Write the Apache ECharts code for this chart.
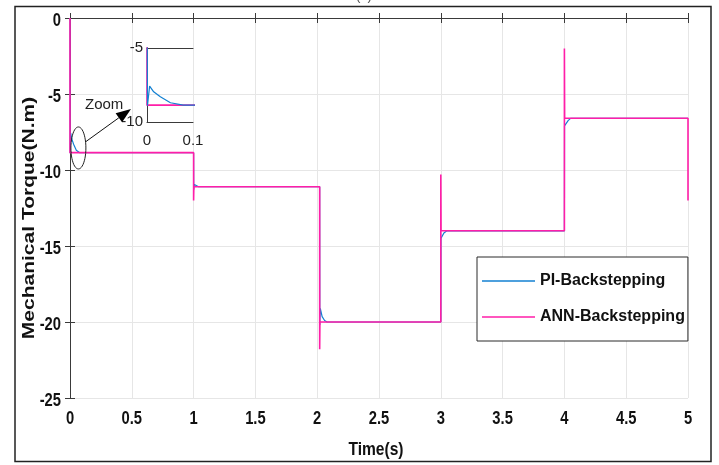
<!DOCTYPE html>
<html><head><meta charset="utf-8">
<script src="https://cdn.jsdelivr.net/npm/echarts@6/dist/echarts.min.js"></script>
<style>html,body{margin:0;padding:0;background:#fff}#c{width:719px;height:465px}</style>
</head><body><div id="c"></div>
<script>
// ---- data (time in s, torque in N.m) ----
const seriesNames = ['PI-Backstepping', 'ANN-Backstepping'];
const piTorque = [
  [0, 0], [0.001, -8.9], [0.0057, -7.57], [0.0145, -7.96], [0.029, -8.3], [0.051, -8.7], [0.079, -8.86],
  [1.0, -8.86], [1.001, -11.3], [1.006, -10.95], [1.02, -11.05], [1.04, -11.1],
  [2.02, -11.1], [2.021, -20.2], [2.025, -19.1], [2.04, -19.65], [2.06, -19.9], [2.08, -20.0],
  [3.0, -20.0], [3.001, -14.5], [3.006, -14.4], [3.025, -14.15], [3.05, -14.0],
  [4.0, -14.0], [4.001, -7.1], [4.01, -7.0], [4.03, -6.75], [4.05, -6.6], [5.0, -6.6]
];
const annTorque = [
  [0, 0], [0, -8.86], [1.0, -8.86], [1.0, -12.0], [1.002, -11.1],
  [2.02, -11.1], [2.02, -21.8], [2.022, -20.0], [3.0, -20.0], [3.0, -10.3], [3.002, -14.0],
  [4.0, -14.0], [4.0, -2.0], [4.002, -6.6], [5.0, -6.6], [5.0, -12.0]
];
const xTicks = [0, 0.5, 1, 1.5, 2, 2.5, 3, 3.5, 4, 4.5, 5];
const xTickLabels = ['0', '0.5', '1', '1.5', '2', '2.5', '3', '3.5', '4', '4.5', '5'];
const yTicks = [-25, -20, -15, -10, -5, 0];
const yTickLabels = ['-25', '-20', '-15', '-10', '-5', '0'];
const xRange = [0, 5, 0.5];      // min, max, step
const yRange = [-25, 0, 5];
const zoomXRange = [0, 0.1, 0.1];
const zoomYRange = [-10, -5, 5];
const zoomCenter = [0.068, -8.55]; // ellipse marking the zoomed region

const PI_COLOR = '#1380d2';
const ANN_COLOR = '#ff1ea8';
const AXIS_COLOR = '#3a3a3a';
const SANS = '"Liberation Sans", Arial, sans-serif';
const SQUEEZE = 0.82;

const chart = echarts.init(document.getElementById('c'), null, {renderer: 'canvas'});

const mainTick = {show: true, inside: true, length: 5, lineStyle: {color: AXIS_COLOR}};
const axLine = {show: true, lineStyle: {color: AXIS_COLOR, width: 1}};
const grid0 = {left: 70, top: 18, width: 618, height: 380};
const grid1 = {left: 147, top: 48, width: 46, height: 74};

chart.setOption({
  animation: false,
  backgroundColor: '#fff',
  grid: [Object.assign({containLabel: false}, grid0), Object.assign({containLabel: false}, grid1)],
  xAxis: [
    {type: 'value', gridIndex: 0, position: 'bottom', min: xRange[0], max: xRange[1], interval: xRange[2],
     axisLine: axLine, axisTick: mainTick, axisLabel: {show: false},
     splitLine: {show: true, lineStyle: {color: '#e6e6e6', width: 1}}},
    {type: 'value', gridIndex: 0, position: 'top', min: xRange[0], max: xRange[1], interval: xRange[2],
     axisLine: axLine, axisTick: mainTick, axisLabel: {show: false}, splitLine: {show: false}},
    {type: 'value', gridIndex: 1, position: 'bottom', min: zoomXRange[0], max: zoomXRange[1], interval: zoomXRange[2],
     axisLine: axLine, axisTick: {show: false},
     axisLabel: {margin: 11, fontFamily: SANS, fontSize: 15, color: '#222'},
     splitLine: {show: false}},
    {type: 'value', gridIndex: 1, position: 'top', min: zoomXRange[0], max: zoomXRange[1],
     axisLine: axLine, axisTick: {show: false}, axisLabel: {show: false}, splitLine: {show: false}}
  ],
  yAxis: [
    {type: 'value', gridIndex: 0, position: 'left', min: yRange[0], max: yRange[1], interval: yRange[2],
     axisLine: axLine, axisTick: mainTick, axisLabel: {show: false},
     splitLine: {show: true, lineStyle: {color: '#e6e6e6', width: 1}}},
    {type: 'value', gridIndex: 0, position: 'right', min: yRange[0], max: yRange[1], interval: yRange[2],
     axisLine: axLine, axisTick: mainTick, axisLabel: {show: false}, splitLine: {show: false}},
    {type: 'value', gridIndex: 1, position: 'left', min: zoomYRange[0], max: zoomYRange[1], interval: zoomYRange[2],
     axisLine: axLine, axisTick: {show: false},
     axisLabel: {margin: 4, fontFamily: SANS, fontSize: 15, color: '#222'},
     splitLine: {show: false}},
    {type: 'value', gridIndex: 1, position: 'right', min: zoomYRange[0], max: zoomYRange[1],
     axisLine: axLine, axisTick: {show: false}, axisLabel: {show: false}, splitLine: {show: false}}
  ],
  legend: {
    orient: 'vertical', left: 477, top: 257,
    data: seriesNames, icon: 'rect',
    itemWidth: 53, itemHeight: 1.5, itemGap: 18,
    padding: [15, 3, 15, 5],
    borderColor: '#2a2a2a', borderWidth: 1, backgroundColor: '#fff',
    textStyle: {fontFamily: SANS, fontWeight: 'bold', fontSize: 16, lineHeight: 18, color: '#111'}
  },
  series: [
    {name: seriesNames[0], type: 'line', xAxisIndex: 0, yAxisIndex: 0, data: piTorque,
     symbol: 'none', lineStyle: {color: PI_COLOR, width: 1.2}, itemStyle: {color: PI_COLOR}, z: 3},
    {name: seriesNames[1], type: 'line', xAxisIndex: 0, yAxisIndex: 0, data: annTorque,
     symbol: 'none', lineStyle: {color: ANN_COLOR, width: 1.6}, itemStyle: {color: ANN_COLOR}, z: 4},
    {name: seriesNames[1], type: 'line', xAxisIndex: 2, yAxisIndex: 2, data: annTorque,
     symbol: 'none', lineStyle: {color: ANN_COLOR, width: 1.6}, z: 5},
    {name: seriesNames[0], type: 'line', xAxisIndex: 2, yAxisIndex: 2, data: piTorque,
     symbol: 'none', lineStyle: {color: PI_COLOR, width: 1.2}, z: 6}
  ]
});

// ---- tick labels (condensed bold, placed through the axis scales) ----
const labelFont = 'bold 18px ' + SANS;
const gfx = [];
xTicks.forEach((v, i) => {
  const p = chart.convertToPixel({xAxisIndex: 0, yAxisIndex: 0}, [v, yRange[0]]);
  gfx.push({type: 'text', x: p[0], y: p[1] + 12, scaleX: SQUEEZE, silent: true, z: 10,
    style: {text: xTickLabels[i], font: labelFont, fill: '#111', textAlign: 'center', textVerticalAlign: 'top'}});
});
yTicks.forEach((v, i) => {
  const p = chart.convertToPixel({xAxisIndex: 0, yAxisIndex: 0}, [xRange[0], v]);
  gfx.push({type: 'text', x: p[0] - 9, y: p[1] + 3, scaleX: SQUEEZE, silent: true, z: 10,
    style: {text: yTickLabels[i], font: labelFont, fill: '#111', textAlign: 'right', textVerticalAlign: 'middle'}});
});

// ---- annotations: outer frame, title fragment, axis names, zoom ellipse + arrow ----
const c = chart.convertToPixel({xAxisIndex: 0, yAxisIndex: 0}, zoomCenter);
const rx = 7.5, ry = 21;
const ell = [];
for (let i = 0; i < 48; i++) {
  const a = i / 48 * Math.PI * 2;
  ell.push([c[0] + rx * Math.cos(a), c[1] + ry * Math.sin(a)]);
}
const start = [c[0] + 7, c[1] - 6];
const tip = [grid1.left - 16, grid1.top + grid1.height - 13];
const dx = tip[0] - start[0], dy = tip[1] - start[1];
const L = Math.hypot(dx, dy), ux = dx / L, uy = dy / L;
const hl = 15, hw = 5.5;
const base = [tip[0] - ux * hl, tip[1] - uy * hl];
const head = [tip, [base[0] - uy * hw, base[1] + ux * hw], [base[0] + uy * hw, base[1] - ux * hw]];

gfx.push(
  {type: 'rect', shape: {x: 15, y: 6.5, width: 696, height: 455}, silent: true, z: 0,
   style: {fill: 'none', stroke: '#222', lineWidth: 1.5}},
  {type: 'text', x: 364, y: 3, silent: true, z: 10,
   style: {text: '(c)', font: '14px ' + SANS, fill: '#555', textAlign: 'center', textVerticalAlign: 'bottom'}},
  {type: 'text', x: 29, y: 218, rotation: Math.PI / 2, scaleY: SQUEEZE, silent: true, z: 10,
   style: {text: 'Mechanical Torque(N.m)', font: 'bold 21px ' + SANS, fill: '#111',
           textAlign: 'center', textVerticalAlign: 'middle'}},
  {type: 'text', x: grid0.left + grid0.width / 2 - 3, y: 450, scaleX: SQUEEZE, silent: true, z: 10,
   style: {text: 'Time(s)', font: 'bold 19px ' + SANS, fill: '#111', textAlign: 'center', textVerticalAlign: 'middle'}},
  {type: 'polygon', shape: {points: ell}, silent: true, z: 20,
   style: {fill: 'none', stroke: '#222', lineWidth: 1}},
  {type: 'line', shape: {x1: start[0], y1: start[1], x2: base[0], y2: base[1]}, silent: true, z: 20,
   style: {stroke: '#111', lineWidth: 1}},
  {type: 'polygon', shape: {points: head}, silent: true, z: 20, style: {fill: '#000'}},
  {type: 'text', x: 85, y: 97, silent: true, z: 20,
   style: {text: 'Zoom', font: '15px ' + SANS, fill: '#222', textVerticalAlign: 'top'}}
);
chart.setOption({graphic: gfx});
</script>
</body></html>
